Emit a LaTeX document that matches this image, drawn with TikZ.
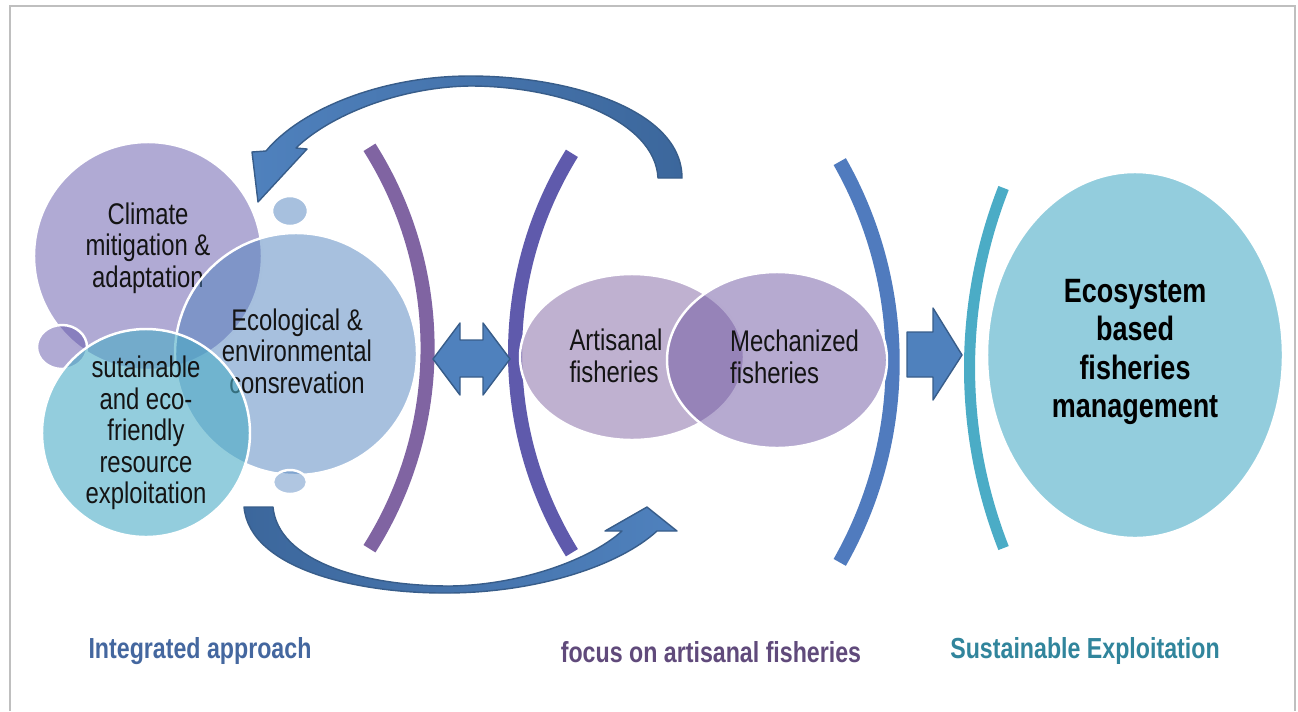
\documentclass[tikz,border=0pt]{standalone}
\usepackage{fontspec}
\setmainfont{Liberation Sans}[FakeStretch=0.8]

\definecolor{ofblue}{HTML}{4F81BD}
\definecolor{ofpurple}{HTML}{8064A2}
\definecolor{ofviolet}{HTML}{6155A9}
\definecolor{ofmauve}{HTML}{6D55A1}
\definecolor{ofaqua}{HTML}{4BACC6}
\definecolor{arrowdark}{HTML}{3C679C}
\definecolor{arrowline}{HTML}{385D8A}
\definecolor{bandtwo}{HTML}{5F5AAC}
\definecolor{bandthree}{HTML}{507BBE}
\definecolor{labblue}{HTML}{44679F}
\definecolor{labpurple}{HTML}{604A7B}
\definecolor{labaqua}{HTML}{31859C}

\begin{document}
\begin{tikzpicture}[x=0.02cm, y=-0.02cm,
    blob/.style={draw=white, line width=1.4pt},
    band/.style={line width=8pt},
    blockarrow/.style={fill=ofblue, draw=arrowline, line width=0.8pt, line join=round},
    body/.style={align=center, text=black!92, font=\fontsize{17}{17.9}\selectfont},
    heading/.style={font=\fontsize{16.5}{18}\selectfont\bfseries}]
    \useasboundingbox (0,0) rectangle (1298,711);
    \draw [black!25, line width=1.6pt] (10,711) -- (10,6) -- (1295,6) -- (1295,711);

    % left group of bubbles
    \filldraw [blob, fill=ofviolet, fill opacity=0.5] (148,256) circle [radius=114];
    \filldraw [blob, fill=ofviolet, fill opacity=0.5] (62,347) ellipse [x radius=25, y radius=22];
    \filldraw [blob, fill=ofblue, fill opacity=0.5] (290,211) ellipse [x radius=18, y radius=15];
    \node [body] (climate) at (148,248) {Climate\\mitigation \&\\adaptation};
    \filldraw [blob, fill=ofblue, fill opacity=0.5] (296,354) circle [radius=121];
    \node [body] (ecology) at (297,351) {Ecological \&\\environmental\\consrevation};
    \filldraw [blob, fill=ofaqua, fill opacity=0.6] (146,433) circle [radius=104];
    \node [body] (resource) at (146,433) {sutainable\\and eco-\\friendly\\resource\\exploitation};
    \filldraw [blob, fill=ofblue, fill opacity=0.45] (290,482) ellipse [x radius=17, y radius=12];

    % brackets
    \draw [band, ofpurple] (52,348) ++(-32.3:375.6) arc [start angle=-32.3, end angle=32.3, radius=375.6];
    \draw [band, bandtwo] (894,353) ++(211.8:379) arc [start angle=211.8, end angle=148.2, radius=379];
    \draw [band, bandthree] (487,362) ++(-29.6:405.7) arc [start angle=-29.6, end angle=29.6, radius=405.7];
    \draw [band, ofaqua, line width=6.3pt] (1463,368) ++(201.4:493.5) arc [start angle=201.4, end angle=158.6, radius=493.5];

    % fisheries
    \filldraw [blob, fill=ofpurple, fill opacity=0.5] (632,357) ellipse [x radius=112, y radius=83];
    \filldraw [blob, fill=ofmauve, fill opacity=0.5] (777,360) ellipse [x radius=110, y radius=88];
    \node [body, align=left] (artisanal) at (616,356) {Artisanal\\fisheries};
    \node [body, align=left, anchor=west] (mechanized) at (724,357) {Mechanized\\fisheries};

    % target
    \filldraw [blob, fill=ofaqua, fill opacity=0.6] (1135,355) ellipse [x radius=148, y radius=183];
    \node [align=center, font=\fontsize{19.2}{21.9}\selectfont\bfseries] (ebfm) at (1135,352)
        {Ecosystem\\based\\fisheries\\management};

    % arrows
    \draw [blockarrow] (433,359) -- (460,323) -- (460,340) -- (483,340) -- (483,323) -- (510,359)
        -- (483,395) -- (483,377) -- (460,377) -- (460,395) -- cycle;
    \draw [blockarrow] (907,332) -- (933,332) -- (933,308) -- (962,355) -- (933,400) -- (933,377)
        -- (907,377) -- cycle;
    \path [draw=arrowline, line width=0.8pt, line join=round, left color=ofblue, right color=arrowdark]
        (658,178) -- (682,178) .. controls (682,110) and (570,76) .. (470,76)
        .. controls (380,76) and (300,110) .. (266,151) -- (252,152) -- (258,202) -- (307,149)
        -- (296,148) .. controls (330,115) and (400,87) .. (470,86)
        .. controls (560,86) and (655,120) .. (658,178) -- cycle;
    \path [draw=arrowline, line width=0.8pt, line join=round, left color=arrowdark, right color=ofblue]
        (244,507) .. controls (250,570) and (360,594) .. (450,593)
        .. controls (540,592) and (620,565) .. (657,531) -- (677,531) -- (647,507) -- (605,531)
        -- (622,531) .. controls (590,560) and (520,585) .. (450,586)
        .. controls (360,586) and (278,560) .. (273,507) -- cycle;

    % captions
    \node [heading, text=labblue] (integrated) at (200,651) {Integrated approach};
    \node [heading, text=labpurple] (focus) at (711,652) {focus on artisanal fisheries};
    \node [heading, text=labaqua] (sustain) at (1085,651) {Sustainable Exploitation};
\end{tikzpicture}
\end{document}
